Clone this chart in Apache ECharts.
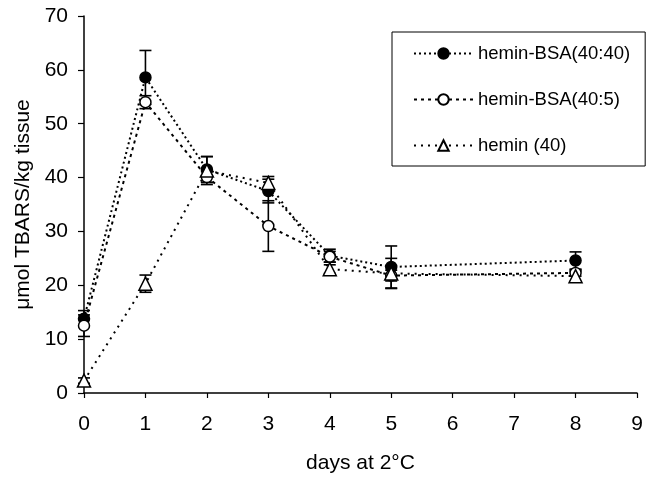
<!DOCTYPE html>
<html>
<head>
<meta charset="utf-8">
<script src="https://cdn.jsdelivr.net/npm/echarts@6/dist/echarts.min.js"></script>
<style>html,body{margin:0;padding:0;background:#fff}#c{width:655px;height:479px}</style>
</head>
<body>
<div id="c"></div>
<script>
var days = [0, 1, 2, 3, 4, 5, 8];
var xTicks = [0, 1, 2, 3, 4, 5, 6, 7, 8, 9];
var yTicks = [0, 10, 20, 30, 40, 50, 60, 70];

var nameFilled = 'hemin-BSA(40:40)';
var valFilled = [13.8, 58.6, 41.5, 37.5, 25.5, 23.4, 24.6];
var errFilled = [1.5, 5.0, 2.4, 2.2, 1.2, 3.9, 1.6];

var nameOpen = 'hemin-BSA(40:5)';
var valOpen = [12.5, 54.0, 40.1, 31.0, 25.3, 21.8, 22.3];
var errOpen = [2.0, 1.2, 1.0, 4.7, 1.0, 1.0, 0.6];

var nameTri = 'hemin (40)';
var valTri = [2.3, 20.3, 41.3, 39.0, 23.0, 22.2, 21.7];
var errTri = [0.5, 1.6, 2.6, 1.2, 0.8, 2.8, 1.0];

var FONT = 'Liberation Sans, Arial, sans-serif';

function pts(vals) { return days.map(function (d, i) { return [d, vals[i]]; }); }
function errs(vals, e) { return days.map(function (d, i) { return [d, vals[i] - e[i], vals[i] + e[i]]; }); }

function errSeries(vals, e) {
  return {
    type: 'custom',
    silent: true,
    z: 1,
    data: errs(vals, e),
    encode: { x: 0, y: [1, 2] },
    renderItem: function (params, api) {
      var x = api.value(0);
      var lo = api.coord([x, api.value(1)]);
      var hi = api.coord([x, api.value(2)]);
      var hw = 6;
      var st = { stroke: '#000', lineWidth: 1.6, fill: null };
      return {
        type: 'group',
        children: [
          { type: 'line', shape: { x1: lo[0], y1: lo[1], x2: hi[0], y2: hi[1] }, style: st },
          { type: 'line', shape: { x1: lo[0] - hw, y1: lo[1], x2: lo[0] + hw, y2: lo[1] }, style: st },
          { type: 'line', shape: { x1: hi[0] - hw, y1: hi[1], x2: hi[0] + hw, y2: hi[1] }, style: st }
        ]
      };
    }
  };
}

function lineSeries(name, vals, symbol, fill, dash) {
  return {
    name: name,
    type: 'line',
    z: 3,
    data: pts(vals),
    symbol: symbol,
    symbolSize: symbol === 'triangle' ? 13 : 11,
    showAllSymbol: true,
    lineStyle: { color: '#000', width: 2, type: dash },
    itemStyle: { color: fill, borderColor: '#000', borderWidth: 1.5 },
    emphasis: { disabled: true }
  };
}

var chart = echarts.init(document.getElementById('c'), null, { renderer: 'canvas' });
chart.setOption({
  animation: false,
  backgroundColor: '#fff',
  textStyle: { fontFamily: FONT },
  grid: { left: 84, right: 18, top: 16, bottom: 85, containLabel: false },
  legend: {
    orient: 'vertical',
    left: 392,
    top: 32,
    padding: [12, 15, 11, 21],
    itemGap: 27,
    itemWidth: 59,
    itemHeight: 13,
    borderColor: '#000',
    borderWidth: 1,
    textStyle: { fontFamily: FONT, fontSize: 18.5, color: '#000' },
    data: [nameFilled, nameOpen, nameTri]
  },
  xAxis: {
    type: 'value',
    min: xTicks[0],
    max: xTicks[xTicks.length - 1],
    interval: 1,
    name: 'days at 2°C',
    nameLocation: 'middle',
    nameGap: 60,
    nameTextStyle: { fontFamily: FONT, fontSize: 21, color: '#000' },
    axisLine: { lineStyle: { color: '#000', width: 1.5 } },
    axisTick: { show: true, length: 5, lineStyle: { color: '#000', width: 1.2 } },
    axisLabel: { fontFamily: FONT, fontSize: 21, color: '#000', margin: 21 },
    splitLine: { show: false }
  },
  yAxis: {
    type: 'value',
    min: yTicks[0],
    max: yTicks[yTicks.length - 1],
    interval: 10,
    name: 'μmol TBARS/kg tissue',
    nameLocation: 'middle',
    nameGap: 49,
    nameTextStyle: { fontFamily: FONT, fontSize: 21, color: '#000' },
    axisLine: { show: true, lineStyle: { color: '#000', width: 1.5 } },
    axisTick: { show: true, length: 6, lineStyle: { color: '#000', width: 1.2 } },
    axisLabel: { fontFamily: FONT, fontSize: 21, color: '#000', margin: 16 },
    splitLine: { show: false }
  },
  series: [
    errSeries(valFilled, errFilled),
    errSeries(valOpen, errOpen),
    errSeries(valTri, errTri),
    lineSeries(nameFilled, valFilled, 'circle', '#000', [2, 3]),
    lineSeries(nameOpen, valOpen, 'circle', '#fff', [3, 4]),
    lineSeries(nameTri, valTri, 'triangle', '#fff', [2, 5])
  ]
});
</script>
</body>
</html>
